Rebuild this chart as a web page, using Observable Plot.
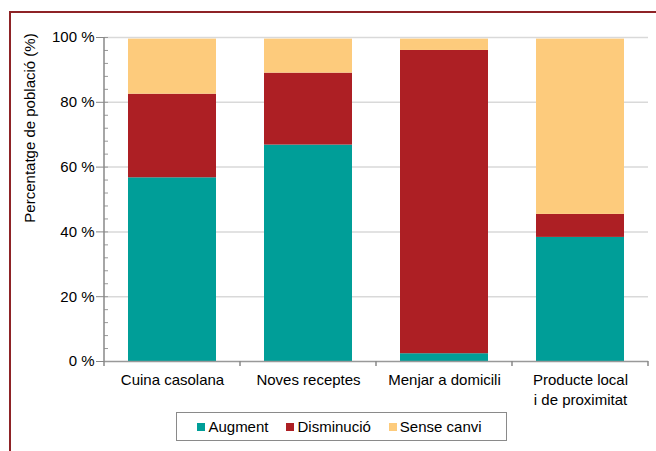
<!DOCTYPE html>
<html>
<head>
<meta charset="utf-8">
<script src="https://cdn.jsdelivr.net/npm/d3@7"></script>
<script src="https://cdn.jsdelivr.net/npm/@observablehq/plot@0.6"></script>
<style>
  html, body { margin: 0; padding: 0; background: #fff; }
  #wrap { position: relative; width: 656px; height: 451px; overflow: hidden; font-family: 'Liberation Sans', Arial, sans-serif; }
  #frame { position: absolute; left: 9px; top: 11px; right: -4px; bottom: -4px; border-top: 2px solid #8e2326; border-left: 2px solid #8e2326; pointer-events: none; }
  #ylabel { position: absolute; left: 29px; top: 128px; transform: translate(-50%, -50%) rotate(-90deg); white-space: nowrap; font-size: 15px; color: #000; line-height: 1; }
  #legend { position: absolute; left: 176px; top: 412px; width: 331px; height: 29px; border: 1px solid #8a8a8a; box-sizing: border-box; display: flex; align-items: center; justify-content: center; gap: 18px; font-size: 15px; color: #000; background: #fff; padding-right: 4px; }
  #legend .item { display: flex; align-items: center; gap: 3px; white-space: nowrap; }
  #legend .sw { width: 8px; height: 8px; display: inline-block; }
</style>
</head>
<body>
<div id="wrap"><div id="chart"></div><div id="frame"></div><div id="ylabel"></div><div id="legend"></div></div>
<script>
const categories = ["Cuina casolana", "Noves receptes", "Menjar a domicili", "Producte local\ni de proximitat"];
const series = ["Augment", "Disminució", "Sense canvi"];
const colors = ["#009e98", "#ad1f24", "#fdcb7c"];
const augment = [56.7, 66.8, 2.4, 38.3];
const disminucio = [25.8, 22.2, 93.6, 7.1];
const senseCanvi = [17.0, 10.5, 3.5, 54.1];
const majorTicks = [0, 20, 40, 60, 80, 100];
const minorTicks = d3.range(0, 101, 4);
const yLabel = "Percentatge de població (%)";

const seriesValues = [augment, disminucio, senseCanvi];
const rows = [];
series.forEach((s, i) => categories.forEach((c, j) => rows.push({cat: c, series: s, value: seriesValues[i][j]})));

const boundaryTicks = (index, scales) => {
  const x = scales.x, y = scales.y;
  const step = x(categories[1]) - x(categories[0]);
  const bw = typeof x.bandwidth === "function" ? x.bandwidth() : step * 0.647;
  const gap = (step - bw) / 2;
  const bounds = categories.map(c => x(c) - gap);
  bounds.push(x(categories[categories.length - 1]) + bw + gap);
  const g = d3.create("svg:g");
  const y0 = y(0);
  g.selectAll("line.t").data(bounds).join("line")
    .attr("x1", d => d).attr("x2", d => d)
    .attr("y1", y0).attr("y2", y0 + 5)
    .attr("stroke", "#888").attr("stroke-width", 1.5);
  g.append("line")
    .attr("x1", bounds[0]).attr("x2", bounds[0])
    .attr("y1", y(0)).attr("y2", y(100))
    .attr("stroke", "#888").attr("stroke-width", 1.5);
  return g.node();
};

const plot = Plot.plot({
  width: 656,
  height: 451,
  marginLeft: 104,
  marginRight: 8,
  marginTop: 37,
  marginBottom: 90,
  style: {fontFamily: "'Liberation Sans', Arial, sans-serif", fontSize: "15px", color: "#000", background: "transparent"},
  x: {domain: categories, paddingInner: 0.353, paddingOuter: 0.1765, axis: null},
  y: {domain: [0, 100], axis: null},
  color: {domain: series, range: colors},
  marks: [
    Plot.gridY([20, 40, 60, 80, 100], {stroke: "#d9d9d9", strokeOpacity: 1, strokeWidth: 1.5}),
    Plot.barY(rows, {x: "cat", y: "value", fill: "series"}),
    Plot.ruleY([0], {stroke: "#999", strokeWidth: 1.5}),
    Plot.axisY(minorTicks, {anchor: "left", tickSize: 4, dx: 4, tickFormat: () => "", stroke: "#999", label: null}),
    Plot.axisY(majorTicks, {anchor: "left", tickSize: 8, tickPadding: 2, tickFormat: d => `${d} %`, stroke: "#888", fill: "#000", fontSize: 15, label: null}),
    Plot.axisX({anchor: "bottom", tickSize: 0, tickPadding: 9, lineHeight: 1.33, fontSize: 15, fill: "#000", label: null}),
    boundaryTicks
  ]
});
document.getElementById("chart").appendChild(plot);
document.getElementById("ylabel").textContent = yLabel;

const legend = document.getElementById("legend");
series.forEach((s, i) => {
  const item = document.createElement("div");
  item.className = "item";
  const sw = document.createElement("span");
  sw.className = "sw";
  sw.style.background = colors[i];
  const t = document.createElement("span");
  t.textContent = s;
  item.appendChild(sw);
  item.appendChild(t);
  legend.appendChild(item);
});
</script>
</body>
</html>
